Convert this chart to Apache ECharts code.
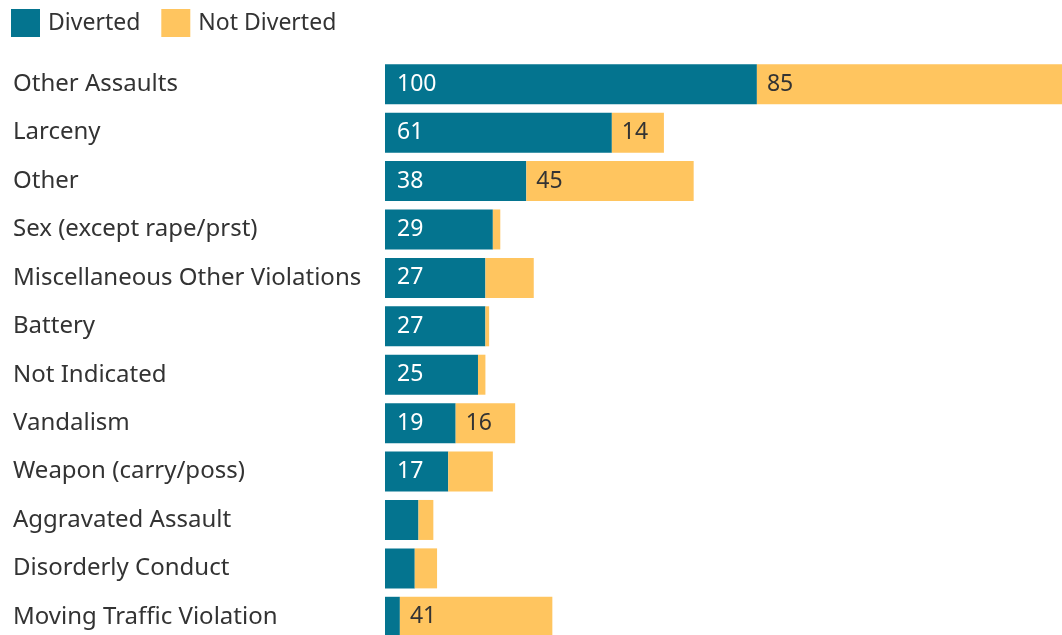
<!DOCTYPE html>
<html>
<head>
<meta charset="utf-8">
<script src="https://cdn.jsdelivr.net/npm/echarts@6/dist/echarts.min.js"></script>
<style>
  html, body { margin: 0; padding: 0; background: #fff; overflow: hidden; }
  #chart { width: 1062px; height: 635px; }
</style>
</head>
<body>
<div id="chart"></div>
<script>
// Offense categories, top to bottom
const categories = [
  'Other Assaults',
  'Larceny',
  'Other',
  'Sex (except rape/prst)',
  'Miscellaneous Other Violations',
  'Battery',
  'Not Indicated',
  'Vandalism',
  'Weapon (carry/poss)',
  'Aggravated Assault',
  'Disorderly Conduct',
  'Moving Traffic Violation'
];

// Case counts per category
const diverted    = [100, 61, 38, 29, 27, 27, 25, 19, 17, 9, 8, 4];
const notDiverted = [85, 14, 45, 2, 13, 1, 2, 16, 12, 4, 6, 41];

const seriesNames = ['Diverted', 'Not Diverted'];

const FONT = '"Noto Sans", Roboto, sans-serif';
const LABEL_SIZE = 23;
const CATEGORY_SIZE = 24;

// Only bars wide enough get a value label
const labelFormatter = p => (p.value >= 14 ? String(p.value) : '');

const chart = echarts.init(document.getElementById('chart'));
chart.setOption({
  animation: false,
  textStyle: { fontFamily: FONT },
  legend: {
    data: seriesNames,
    left: 6,
    top: 4,
    icon: 'rect',
    itemWidth: 29,
    itemHeight: 28,
    itemGap: 21,
    textStyle: { fontSize: LABEL_SIZE, color: '#333', fontFamily: FONT, padding: [0, 0, 0, 3] }
  },
  // plot area runs past the right and bottom edges of the page
  grid: {
    left: 385, top: 60, width: 688, height: 581,
    containLabel: false,
    outerBoundsMode: 'none'
  },
  xAxis: {
    type: 'value',
    min: 0,
    max: 185,
    show: false
  },
  yAxis: {
    type: 'category',
    data: categories,
    inverse: true,
    axisLine: { show: false },
    axisTick: { show: false },
    axisLabel: {
      align: 'left',
      margin: 372,
      fontSize: CATEGORY_SIZE,
      color: '#333',
      fontFamily: FONT
    }
  },
  series: [
    {
      name: seriesNames[0],
      type: 'bar',
      stack: 'total',
      barWidth: 40,
      data: diverted,
      itemStyle: { color: '#04748f' },
      label: {
        show: true,
        position: 'insideLeft',
        distance: 12,
        formatter: labelFormatter,
        color: '#fff',
        fontSize: LABEL_SIZE,
        fontFamily: FONT
      }
    },
    {
      name: seriesNames[1],
      type: 'bar',
      stack: 'total',
      barWidth: 40,
      data: notDiverted,
      itemStyle: { color: '#ffc55f' },
      label: {
        show: true,
        position: 'insideLeft',
        distance: 10,
        formatter: labelFormatter,
        color: '#333',
        fontSize: LABEL_SIZE,
        fontFamily: FONT
      }
    }
  ]
});
</script>
</body>
</html>
